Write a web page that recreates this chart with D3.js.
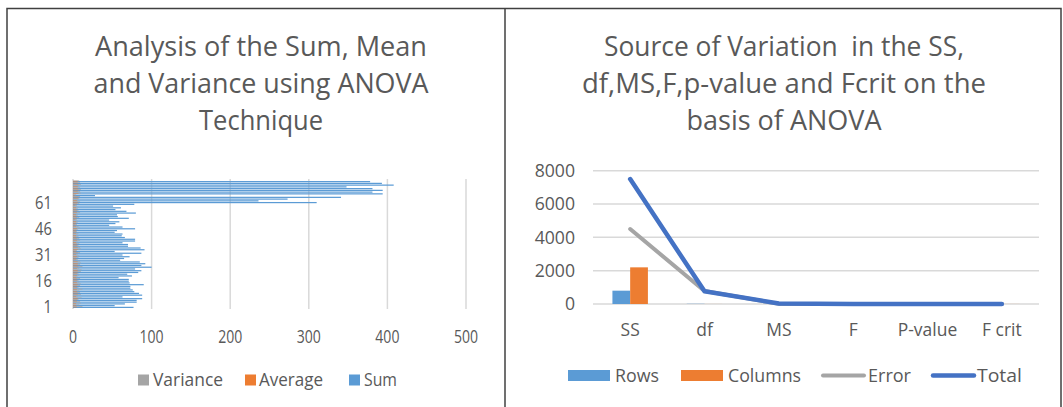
<!DOCTYPE html>
<html><head><meta charset="utf-8">
<script src="https://cdn.jsdelivr.net/npm/d3@7"></script>
<style>
html,body{margin:0;padding:0;background:#fff;}
text{font-family:"Open Sans",sans-serif;fill:#595959;}
</style></head>
<body>
<svg id="c" width="1063" height="407"></svg>
<script>
// ---------- LEFT CHART DATA ----------
const leftSeries = ["Sum","Average","Variance"];
const leftLegendOrder = ["Variance","Average","Sum"];
const leftCategories = d3.range(1, 74).map(String);
const leftTickLabels = ["1","16","31","46","61"];
const leftXTicks = [0,100,200,300,400,500];
const sumValues = [77,53,66,81,81,88,63,88,84,78,76,73,73,90,72,71,71,58,75,69,
  83,87,79,100,87,92,85,60,65,72,63,87,53,91,86,70,70,63,79,79,
  66,62,63,53,56,79,63,46,54,59,46,71,57,56,80,68,54,61,51,78,
  310,236,273,341,28,394,381,394,381,348,408,393,378];
const averageValues = [5,4,4,5,5,6,4,6,6,5,5,5,5,6,5,5,5,4,5,5,
  6,6,5,7,6,6,6,4,4,5,4,6,4,6,6,5,5,4,5,5,
  4,4,4,4,4,5,4,3,4,4,3,5,4,4,5,5,4,4,3,5,
  6,5,6,7,2,7,6,7,6,6,7,6,6];
const varianceValues = [12,8,10,9,7,11,6,10,9,8,12,7,9,10,8,7,9,6,8,7,
  10,11,8,12,9,10,9,6,7,8,6,9,5,10,9,7,8,6,9,8,
  7,6,7,5,6,9,7,5,6,6,5,8,6,6,9,7,6,7,5,8,
  9,7,8,9,4,10,9,10,9,8,10,9,8];

// ---------- RIGHT CHART DATA ----------
const rightCategories = ["SS","df","MS","F","P-value","F crit"];
const rightYTicks = [0,2000,4000,6000,8000];
const rowsValues = [800,12,2,1,0,1];
const columnsValues = [2200,2,10,3,0,3];
const errorValues = [4500,780,6,0,0,0];
const totalValues = [7500,760,30,0,0,0];

const C = {blue:"#5B9BD5", orange:"#ED7D31", gray:"#A5A5A5", dblue:"#4472C4", grid:"#D9D9D9", text:"#595959"};
const svg = d3.select("#c");

// frame
svg.append("path").attr("d","M7,407 V8.5 H1061 V407").attr("fill","none").attr("stroke","#404040").attr("stroke-width",1.5);
svg.append("line").attr("x1",505).attr("x2",505).attr("y1",8.5).attr("y2",407).attr("stroke","#404040").attr("stroke-width",1.5);

function squeeze(sel, k){ sel.each(function(){ const w=this.getComputedTextLength(); d3.select(this).attr("textLength", w*k).attr("lengthAdjust","spacingAndGlyphs"); }); }
function fitW(sel, w){ sel.attr("textLength", w).attr("lengthAdjust","spacingAndGlyphs"); }

function title(lines, cx, baselines, widths){
  lines.forEach((t,i)=>{
    const el = svg.append("text").attr("x",cx).attr("y",baselines[i]).attr("text-anchor","middle")
      .attr("font-size",27).attr("xml:space","preserve").text(t);
    fitW(el, widths[i]);
  });
}
title(["Analysis of the Sum, Mean","and Variance using ANOVA","Technique"],261,[56,93,130],[332,335,124]);
title(["Source of Variation  in the SS,","df,MS,F,p-value and Fcrit on the","basis of ANOVA"],784,[56,93,130],[360,404,195]);

// ---------- LEFT CHART ----------
const lx = d3.scaleLinear().domain([0,500]).range([73,466]);
const ly = d3.scaleBand().domain(leftCategories).range([308,180.5]).paddingInner(0).paddingOuter(0);
const bw = ly.bandwidth();
// fraction of band: [offset from band top, thickness]
const slot = {Variance:[0,0.4], Average:[0.2,0.4], Sum:[0.3,0.7]};
const L = svg.append("g");
L.selectAll(".vg").data(leftXTicks).join("line")
  .attr("x1",d=>lx(d)).attr("x2",d=>lx(d)).attr("y1",179).attr("y2",309)
  .attr("stroke",C.grid).attr("stroke-width",1.5);
const leftData = {Sum:sumValues, Average:averageValues, Variance:varianceValues};
const leftColors = {Sum:C.blue, Average:C.orange, Variance:C.gray};
leftSeries.forEach(s=>{
  L.append("g").selectAll("rect").data(leftCategories).join("rect")
    .attr("x",lx(0)).attr("y",(c)=>ly(c)+slot[s][0]*bw)
    .attr("width",(c,i)=>lx(leftData[s][i])-lx(0)).attr("height",slot[s][1]*bw)
    .attr("fill",leftColors[s]);
});
const lxt = L.selectAll(".xt").data(leftXTicks).join("text")
  .attr("x",d=>lx(d)).attr("y",337).attr("dy","0.35em").attr("text-anchor","middle")
  .attr("font-size",18).text(d=>d);
squeeze(lxt,0.78);
const lyt = L.selectAll(".yt").data(leftTickLabels).join("text")
  .attr("x",52).attr("y",d=>ly(d)+bw/2).attr("dy","0.35em").attr("text-anchor","end")
  .attr("font-size",18).text(d=>d);
squeeze(lyt,0.82);
// left legend
const leftLegendPos = {Variance:[138,153,70], Average:[245,259,64], Sum:[349,364,33]};
leftLegendOrder.forEach(s=>{
  const p = leftLegendPos[s];
  L.append("rect").attr("x",p[0]).attr("y",374.5).attr("width",11).attr("height",11).attr("fill",leftColors[s]);
  const t = L.append("text").attr("x",p[1]).attr("y",380).attr("dy","0.35em").attr("font-size",18).text(s);
  fitW(t,p[2]);
});

// ---------- RIGHT CHART ----------
const rx = d3.scaleBand().domain(rightCategories).range([593,1039]);
const ry = d3.scaleLinear().domain([0,8000]).range([304,170.7]);
const R = svg.append("g");
R.selectAll(".hg").data(rightYTicks).join("line")
  .attr("x1",593).attr("x2",1039).attr("y1",d=>ry(d)).attr("y2",d=>ry(d))
  .attr("stroke",C.grid).attr("stroke-width",1.5);
const barW = rx.bandwidth()/(2+2.19);
const rBars = [{name:"Rows",vals:rowsValues,color:C.blue,off:-1},{name:"Columns",vals:columnsValues,color:C.orange,off:0}];
rBars.forEach(b=>{
  R.append("g").selectAll("rect").data(rightCategories).join("rect")
    .attr("x",c=>rx(c)+rx.bandwidth()/2+b.off*barW).attr("width",barW)
    .attr("y",(c,i)=>ry(b.vals[i])).attr("height",(c,i)=>ry(0)-ry(b.vals[i]))
    .attr("fill",b.color);
});
const line = d3.line().x((d,i)=>rx(rightCategories[i])+rx.bandwidth()/2).y(d=>ry(d));
R.append("path").attr("d",line(errorValues)).attr("fill","none").attr("stroke",C.gray).attr("stroke-width",4).attr("stroke-linejoin","round").attr("stroke-linecap","round");
R.append("path").attr("d",line(totalValues)).attr("fill","none").attr("stroke",C.dblue).attr("stroke-width",4.5).attr("stroke-linejoin","round").attr("stroke-linecap","round");
const ryt = R.selectAll(".yt").data(rightYTicks).join("text")
  .attr("x",575).attr("y",d=>ry(d)).attr("dy","0.35em").attr("text-anchor","end")
  .attr("font-size",18).text(d=>d);
squeeze(ryt,0.98);
const rxt = R.selectAll(".xt").data(rightCategories).join("text")
  .attr("x",c=>rx(c)+rx.bandwidth()/2).attr("y",330).attr("dy","0.35em").attr("text-anchor","middle")
  .attr("font-size",18).text(d=>d);
squeeze(rxt,0.97);
// right legend
const rLeg = [
  {name:"Rows",type:"rect",color:C.blue,x:568,tx:615,tw:44},
  {name:"Columns",type:"rect",color:C.orange,x:681,tx:728,tw:73},
  {name:"Error",type:"line",color:C.gray,x:821,tx:868,tw:43,sw:4},
  {name:"Total",type:"line",color:C.dblue,x:931,tx:977,tw:45,sw:4.5}
];
rLeg.forEach(d=>{
  if(d.type==="rect") R.append("rect").attr("x",d.x).attr("y",370).attr("width",42).attr("height",11).attr("fill",d.color);
  else R.append("line").attr("x1",d.x+2).attr("x2",d.x+43).attr("y1",375.5).attr("y2",375.5).attr("stroke",d.color).attr("stroke-width",d.sw).attr("stroke-linecap","round");
  const t = R.append("text").attr("x",d.tx).attr("y",375.5).attr("dy","0.35em").attr("font-size",18).text(d.name);
  fitW(t,d.tw);
});
</script>
</body></html>
